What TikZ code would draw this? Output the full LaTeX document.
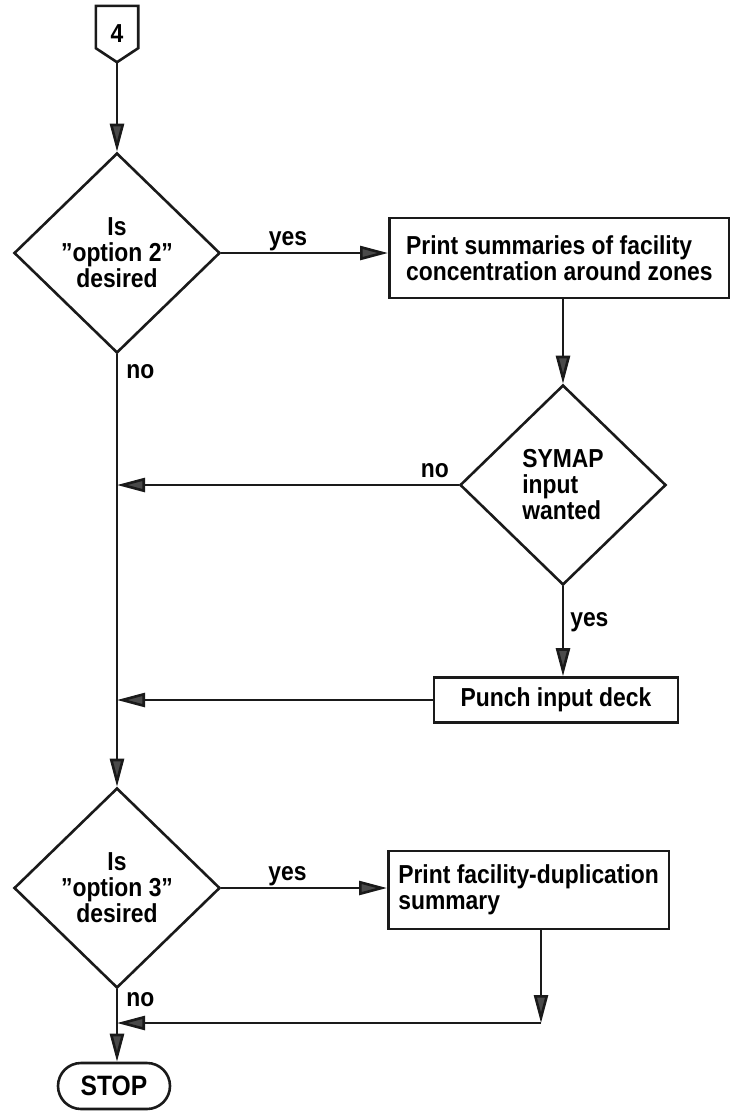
\documentclass[tikz,border=0pt]{standalone}
\usepackage{fontspec}
\setmainfont{Liberation Sans}[FakeStretch=0.88]
\usepackage{tikz}
\usetikzlibrary{shapes.geometric,arrows.meta,positioning}
\definecolor{fcink} {HTML}{1A1A1A}
\definecolor{fchead}{HTML}{4A4A4A}
\newcommand{\fcfont}{\bfseries\fontsize{26}{26}\selectfont}
\tikzset{
  fcline/.style={draw=fcink, line width=2.6pt},
  fcarrow/.style={fcline, -{Triangle[length=28pt,width=14pt,fill=fchead]}},
  fcdecide/.style={diamond, fcline, minimum width=206pt, minimum height=200pt,
                   inner sep=0pt, align=center, font=\fcfont},
  fcbox/.style={rectangle, fcline, inner sep=0pt, font=\fcfont},
  fcterm/.style={rectangle, rounded corners=23pt, fcline, minimum width=112pt,
                 minimum height=46pt, font=\bfseries\fontsize{28}{28}\selectfont},
  fcpage/.style={rectangle, minimum width=42pt, minimum height=56pt,
                 inner sep=0pt, font=\fcfont},
  fclabel/.style={font=\fcfont, inner sep=0pt}
}

\begin{document}
\begin{tikzpicture}[x=1pt, y=-1pt]
  \useasboundingbox (0,0) rectangle (730,1112);
  \node[fcpage] (pg4) at (117,34) {4};
  \draw[fcline] (pg4.north west) -- (pg4.north east) -- ([yshift=14pt]pg4.south east)
    -- (pg4.south) -- ([yshift=14pt]pg4.south west) -- cycle;
  \node[fcdecide] (opt2) at (117,253) {Is\\”option 2”\\desired};
  \node[fcbox, minimum width=340pt, minimum height=80pt, align=left, anchor=west]
    (sumzone) at (388,258) {Print summaries of facility\\concentration around zones};
  \node[fcdecide, align=left] (symap) at (563,485) {SYMAP\\input\\wanted};
  \node[fcbox, minimum width=244pt, minimum height=45pt] (punch) at (556,700)
    {Punch input deck};
  \node[fcdecide] (opt3) at (117,888) {Is\\”option 3”\\desired};
  \node[fcbox, inner xsep=10pt, minimum height=78pt, align=left, anchor=west]
    (dupsum) at (387,890) {Print facility-duplication\\summary};
  \node[fcterm] (stop) at (114,1086) {STOP};
  \coordinate (dupturn) at (541,1023);

  \draw[fcarrow] (pg4.south) -- (opt2.north);
  \draw[fcarrow] (opt2.east) -- (opt2.east -| sumzone.west)
    node[fclabel, pos=0.4, above=1pt] {yes};
  \draw[fcarrow] (sumzone.south -| symap.north) -- (symap.north);
  \draw[fcarrow] (symap.west) -- (symap.west -| opt2.south)
    node[fclabel, pos=0.07, above=6pt] {no};
  \draw[fcarrow] (opt2.south) -- (opt3.north)
    node[fclabel, pos=0.04, right=8pt] {no};
  \draw[fcarrow] (symap.south) -- (symap.south |- punch.north)
    node[fclabel, pos=0.4, right=6pt] {yes};
  \draw[fcarrow] (punch.west) -- (punch.west -| opt2.south);
  \draw[fcarrow] (opt3.east) -- (opt3.east -| dupsum.west)
    node[fclabel, pos=0.4, above=1pt] {yes};
  \draw[fcarrow] (dupsum.south -| dupturn) -- (dupturn);
  \draw[fcarrow] (dupturn) -- (dupturn -| opt3.south);
  \draw[fcarrow] (opt3.south) -- (opt3.south |- stop.north)
    node[fclabel, pos=0.14, right=8pt] {no};
\end{tikzpicture}
\end{document}
